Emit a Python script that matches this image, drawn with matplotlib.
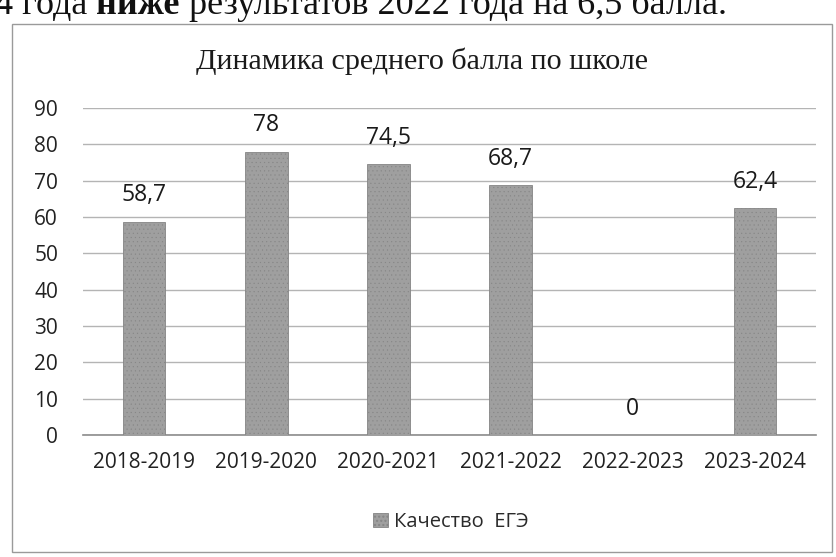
import matplotlib
matplotlib.use("Agg")
import matplotlib.pyplot as plt
from matplotlib.patches import Rectangle

# data
years = ["2018-2019", "2019-2020", "2020-2021", "2021-2022", "2022-2023", "2023-2024"]
scores = [58.7, 78, 74.5, 68.7, 0, 62.4]
series_name = "Качество  ЕГЭ"
title = "Динамика среднего балла по школе"
yticks = [0, 10, 20, 30, 40, 50, 60, 70, 80, 90]

W, H = 836, 557
fig = plt.figure(figsize=(W / 100, H / 100), dpi=100)
fig.patch.set_facecolor("white")

# line of document text, cut off above the chart as on the scan
base = 1 - 14 / H
t1 = fig.text(-5 / W, base, "4 года ", family="Liberation Serif",
              fontsize=26, color="#111111", va="baseline", ha="left")
t2 = fig.text(0, 0, "ниже", family="Liberation Serif", fontsize=26,
              fontweight="bold", color="#111111", va="baseline", ha="left")
t3 = fig.text(0, 0, " результатов 2022 года на 6,5 балла.", family="Liberation Serif",
              fontsize=26, color="#111111", va="baseline", ha="left")
fig.canvas.draw()
r = fig.canvas.get_renderer()
bb = t1.get_window_extent(r)
t2.set_position((bb.x1 / W, base))
fig.canvas.draw()
bb = t2.get_window_extent(r)
t3.set_position((bb.x1 / W, base))

# chart frame
fig.patches.append(Rectangle((12 / W, 1 - 552 / H), 820 / W, 528 / H,
                             transform=fig.transFigure, fill=False,
                             edgecolor="#9a9a9a", linewidth=1.0))

ax = fig.add_axes([83 / W, 1 - 435 / H, 733 / W, 327 / H])
x = range(len(years))
bars = ax.bar(x, scores, width=0.35, color="#9f9f9f", edgecolor="#858585",
              linewidth=0.6, hatch="....", label=series_name, zorder=3)
for b in bars:
    if hasattr(b, "set_hatch_linewidth"):
        b.set_hatch_linewidth(0.3)

ax.set_xlim(-0.5, len(years) - 0.5)
ax.set_ylim(0, 90)
ax.set_yticks(yticks)
ax.set_xticks(list(x))
ax.set_xticklabels(years)
ax.yaxis.grid(True, color="#b4b4b4", linewidth=1.0, zorder=0)
ax.set_axisbelow(True)
for s in ["top", "right", "left"]:
    ax.spines[s].set_visible(False)
ax.spines["bottom"].set_color("#8c8c8c")
ax.spines["bottom"].set_linewidth(1.2)
ax.tick_params(axis="both", length=0, labelsize=15, labelcolor="#222222")
ax.tick_params(axis="y", pad=18)
ax.tick_params(axis="x", pad=12)
for lab in ax.get_xticklabels() + ax.get_yticklabels():
    lab.set_family("Open Sans")

for xi, v in zip(x, scores):
    ax.annotate(("%g" % v).replace(".", ","), (xi, v), xytext=(0, 19),
                textcoords="offset points", ha="center", va="center",
                fontsize=16.5, family="Open Sans", color="#1a1a1a")

fig.text(422 / W, 1 - 61 / H, title, family="Liberation Serif", fontsize=21.6,
         color="#1a1a1a", ha="center", va="center")

leg = ax.legend(loc="center", bbox_to_anchor=(451 / W, 1 - 522 / H),
                bbox_transform=fig.transFigure, frameon=False,
                prop={"family": "Open Sans", "size": 14.5},
                handlelength=0.75, handleheight=0.75, handletextpad=0.3)
for t in leg.get_texts():
    t.set_color("#2a2a2a")

fig.savefig("out.png", dpi=100, facecolor="white")
